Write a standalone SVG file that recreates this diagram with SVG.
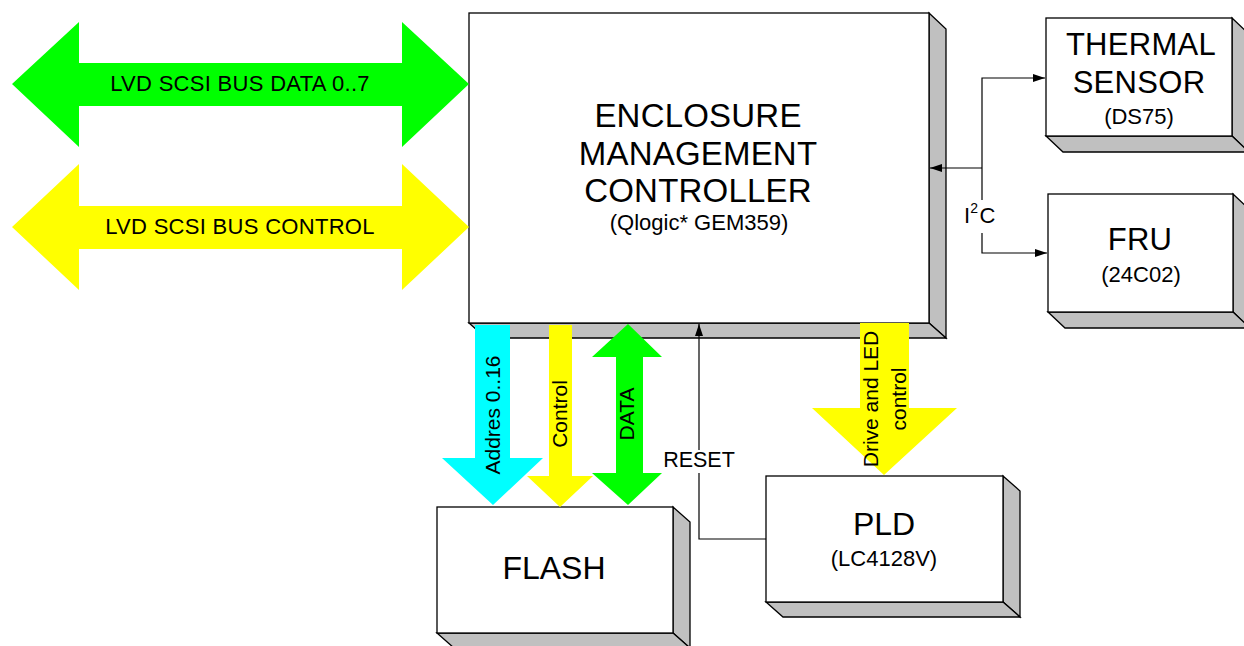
<svg xmlns="http://www.w3.org/2000/svg" width="1244" height="646" viewBox="0 0 1244 646">
<style>
text{font-family:"Liberation Sans",Arial,sans-serif;fill:#000}
.face{fill:#fff;stroke:#000;stroke-width:1.3}
.shade{fill:#c0c0c0;stroke:#000;stroke-width:1.3;stroke-linejoin:miter}
.ln{fill:none;stroke:#000;stroke-width:1.2}
.big{font-size:31px;letter-spacing:0.3px}
.sub{font-size:22px}
.rot{font-size:21px}
</style>
<defs>
<marker id="ah" viewBox="0 0 12 8" refX="12" refY="4" markerWidth="12" markerHeight="8" markerUnits="userSpaceOnUse" orient="auto">
<path d="M0,0 L12,4 L0,8 Z" fill="#000"/>
</marker>
</defs>
<rect width="1244" height="646" fill="#fff"/>

<g id="emc">
<polygon class="shade" points="929,13 946,29 946,338 929,323"/>
<polygon class="shade" points="469,323 486,338 946,338 929,323"/>
<rect class="face" x="469" y="13" width="460" height="310"/>
<text x="698" y="127" text-anchor="middle" font-size="33" letter-spacing="0.2">ENCLOSURE</text>
<text x="698" y="165" text-anchor="middle" font-size="33" letter-spacing="0.2">MANAGEMENT</text>
<text x="698" y="202" text-anchor="middle" font-size="33" letter-spacing="0.2">CONTROLLER</text>
<text class="sub" x="699" y="230" text-anchor="middle">(Qlogic* GEM359)</text>
</g>

<g id="thermal">
<polygon class="shade" points="1232,18 1249,34 1249,152 1232,136"/>
<polygon class="shade" points="1046,136 1063,152 1249,152 1232,136"/>
<rect class="face" x="1046" y="18" width="186" height="118"/>
<text class="big" x="1141" y="55" text-anchor="middle">THERMAL</text>
<text class="big" x="1139" y="93" text-anchor="middle">SENSOR</text>
<text class="sub" x="1139" y="124" text-anchor="middle">(DS75)</text>
</g>

<g id="fru">
<polygon class="shade" points="1233,194 1250,210 1250,328 1233,312"/>
<polygon class="shade" points="1048,312 1065,328 1250,328 1233,312"/>
<rect class="face" x="1048" y="194" width="185" height="118"/>
<text class="big" x="1140" y="250" text-anchor="middle">FRU</text>
<text class="sub" x="1141" y="282" text-anchor="middle">(24C02)</text>
</g>

<g id="flash">
<polygon class="shade" points="673,507 690,522 690,648 673,633"/>
<polygon class="shade" points="437,633 454,648 690,648 673,633"/>
<rect class="face" x="437" y="507" width="236" height="126"/>
<text x="554" y="579" text-anchor="middle" font-size="32">FLASH</text>
</g>

<g id="pld">
<polygon class="shade" points="1003,476 1020,491 1020,617 1003,602"/>
<polygon class="shade" points="766,602 783,617 1020,617 1003,602"/>
<rect class="face" x="766" y="476" width="237" height="126"/>
<text x="884" y="535" text-anchor="middle" font-size="32">PLD</text>
<text class="sub" x="884" y="566" text-anchor="middle">(LC4128V)</text>
</g>

<g id="connectors">
<g id="scsi-data">
<polygon fill="#00ff00" points="12,84 79,22 79,63 402,63 402,22 469,84 402,147 402,106 79,106 79,147"/>
<text x="240" y="91" text-anchor="middle" font-size="22" letter-spacing="0.3">LVD SCSI BUS DATA 0..7</text>
</g>
<g id="scsi-control">
<polygon fill="#ffff00" points="12,227 79,164 79,206 402,206 402,164 469,227 402,290 402,249 79,249 79,290"/>
<text x="240" y="234" text-anchor="middle" font-size="22" letter-spacing="0.3">LVD SCSI BUS CONTROL</text>
</g>
<g id="addr">
<polygon fill="#00ffff" points="475,325 510,325 510,458 543,458 493,505 442,458 475,458"/>
<text class="rot" transform="translate(500,415) rotate(-90)" text-anchor="middle">Addres 0..16</text>
</g>
<g id="ctrl">
<polygon fill="#ffff00" points="549,325 572,325 572,476 593,476 560,507 527,476 549,476"/>
<text class="rot" transform="translate(567,414) rotate(-90)" text-anchor="middle">Control</text>
</g>
<g id="data">
<polygon fill="#00ff00" points="628,324 662,357 643,357 643,473 662,473 628,505 592,473 616,473 616,357 592,357"/>
<text class="rot" transform="translate(634,414) rotate(-90)" text-anchor="middle">DATA</text>
</g>
<g id="drive">
<polygon fill="#ffff00" points="860,323 909,323 909,408 957,408 884,475 812,408 860,408"/>
<text class="rot" transform="translate(878,399) rotate(-90)" text-anchor="middle">Drive and LED</text>
<text class="rot" transform="translate(906,399) rotate(-90)" text-anchor="middle">control</text>
</g>
<g id="reset">
<polyline class="ln" points="766,539 699,539 699,473"/>
<polyline class="ln" points="699,450 699,324" marker-end="url(#ah)"/>
<text x="699" y="467" text-anchor="middle" font-size="21.5">RESET</text>
</g>
<g id="i2c">
<polyline class="ln" points="982,200 982,78 1045,78" marker-end="url(#ah)"/>
<polyline class="ln" points="982,168 930,168" marker-end="url(#ah)"/>
<polyline class="ln" points="982,233 982,253 1047,253" marker-end="url(#ah)"/>
<text x="964" y="223" font-size="22">I<tspan dy="-10" font-size="14">2</tspan><tspan dy="10" dx="1.5">C</tspan></text>
</g>
</g>
</svg>
